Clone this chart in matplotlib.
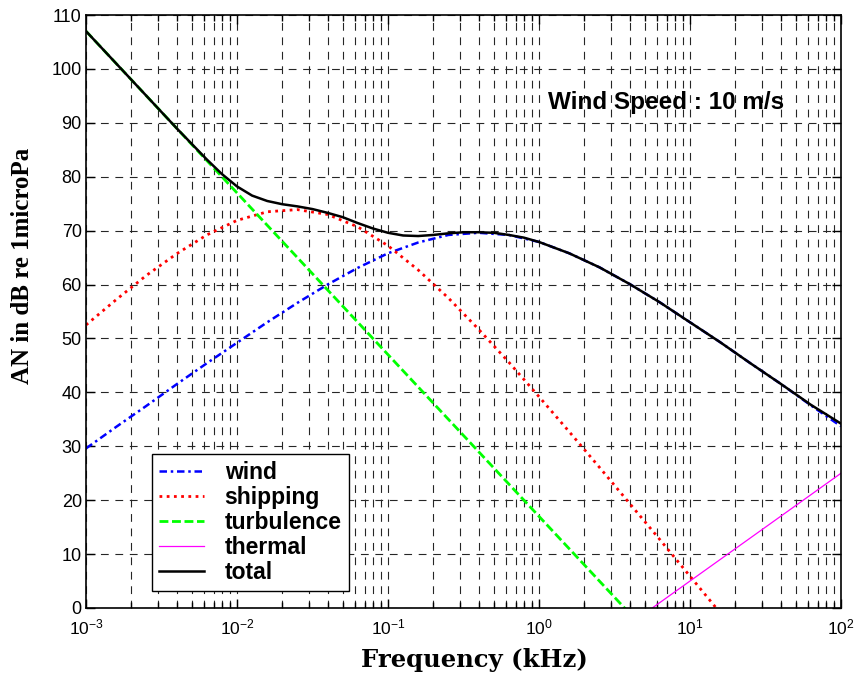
import matplotlib
matplotlib.use("Agg")
import matplotlib.pyplot as plt
from matplotlib.ticker import LogLocator, FixedLocator

plt.rcParams['font.family'] = ['Liberation Sans', 'DejaVu Sans']
plt.rcParams['mathtext.default'] = 'regular'

# frequency samples (kHz), 1/5 decade steps
freq_khz = [0.001, 0.001585, 0.002512, 0.003981, 0.00631,
            0.01, 0.01585, 0.02512, 0.03981, 0.0631,
            0.1, 0.1585, 0.2512, 0.3981, 0.631,
            1.0, 1.585, 2.512, 3.981, 6.31,
            10.0, 15.85, 25.12, 39.81, 63.1, 100.0]

# noise levels (dB re 1 microPa)
wind = [29.6, 33.6, 37.5, 41.5, 45.4,
        49.2, 53.0, 56.6, 60.0, 63.1,
        65.8, 67.8, 69.2, 69.6, 69.2,
        67.9, 65.8, 63.2, 60.1, 56.7,
        53.0, 49.3, 45.4, 41.6, 37.6, 33.7]
shipping = [52.5, 57.2, 61.7, 65.7, 69.2,
            71.9, 73.5, 73.9, 73.0, 70.7,
            67.2, 62.7, 57.5, 51.7, 45.6,
            39.2, 32.7, 26.1, 19.4, 12.7,
            5.9, -0.9, -7.6, -14.4, -21.2, -28.0]
turbulence = [107, 101, 95, 89, 83,
              77, 71, 65, 59, 53,
              47, 41, 35, 29, 23,
              17, 11, 5, -1, -7,
              -13, -19, -25, -31, -37, -43]
thermal = [-75, -71, -67, -63, -59,
           -55, -51, -47, -43, -39,
           -35, -31, -27, -23, -19,
           -15, -11, -7, -3, 1,
           5, 9, 13, 17, 21, 25]

# total is read more densely where it bends
freq_total = [0.001, 0.001585, 0.002512, 0.003981, 0.005012, 0.00631, 0.007943,
              0.01, 0.01259, 0.01585, 0.01995, 0.02512, 0.03162, 0.03981,
              0.05012, 0.0631, 0.07943, 0.1, 0.1259, 0.1585, 0.1995, 0.2512,
              0.3162, 0.3981, 0.5012, 0.631, 0.7943,
              1.0, 1.585, 2.512, 3.981, 6.31,
              10.0, 15.85, 25.12, 39.81, 63.1, 100.0]
total = [107.0, 101.0, 95.0, 89.0, 86.1, 83.2, 80.5,
         78.2, 76.5, 75.5, 74.9, 74.5, 74.0, 73.3,
         72.5, 71.4, 70.4, 69.6, 69.1, 69.0, 69.2, 69.5,
         69.7, 69.7, 69.6, 69.2, 68.7,
         67.9, 65.8, 63.2, 60.1, 56.7,
         53.0, 49.3, 45.4, 41.6, 37.7, 34.2]

yticks = list(range(0, 111, 10))

fig = plt.figure(figsize=(8.58, 6.77), dpi=100)
ax = fig.add_axes([86/858, 69/677, 755/858, 593/677])

ax.plot(freq_khz, wind, color='#0000ff', lw=1.8, ls=(0, (3, 1.5, 1, 1.5)), label='wind')
ax.plot(freq_khz, shipping, color='#ff0000', lw=2.0, ls=(0, (1, 1.6)), label='shipping')
ax.plot(freq_khz, turbulence, color='#00ff00', lw=2.0, ls=(0, (3.2, 1.3)), label='turbulence')
ax.plot(freq_khz, thermal, color='#ff00ff', lw=0.9, label='thermal')
ax.plot(freq_total, total, color='black', lw=1.8, label='total')

ax.set_xscale('log')
ax.set_xlim(1e-3, 1e2)
ax.set_ylim(0, 110)
ax.yaxis.set_major_locator(FixedLocator(yticks))
ax.xaxis.set_major_locator(LogLocator(base=10, numticks=10))
ax.xaxis.set_minor_locator(LogLocator(base=10, subs=range(2, 10), numticks=20))

grid_kw = dict(color='0.15', lw=0.8, ls=(0, (7, 6)))
ax.grid(True, which='major', axis='both', **grid_kw)
ax.grid(True, which='minor', axis='x', **grid_kw)
ax.set_axisbelow(True)

ax.tick_params(which='both', direction='in', top=True, right=True, width=1.0)
ax.tick_params(which='major', length=6.5)
ax.tick_params(which='minor', length=4.3)
ax.tick_params(axis='y', which='major', labelsize=13, pad=3)
ax.tick_params(axis='x', which='major', labelsize=12.5, pad=7)
for s in ax.spines.values():
    s.set_linewidth(1.2)

ax.set_xlabel('Frequency (kHz)', family='DejaVu Serif', fontweight='bold',
              fontsize=17.5)
ax.xaxis.set_label_coords(0.515, -0.068)
ax.set_ylabel('AN in dB re 1microPa', family='Liberation Serif', fontweight='bold',
              fontsize=18)
ax.yaxis.set_label_coords(-0.0695, 0.577)

ax.text(1.147, 93.7, 'Wind Speed : 10 m/s', fontsize=17.5, fontweight='bold',
        ha='left', va='center')

leg = ax.legend(loc='lower left', bbox_to_anchor=(0.0874, 0.0287),
                prop={'size': 16.5, 'weight': 'bold'}, fancybox=False,
                framealpha=1, edgecolor='black', labelspacing=0.09,
                handlelength=1.97, handletextpad=0.9, borderpad=0.3,
                borderaxespad=0)
leg.get_frame().set_linewidth(1.0)

fig.savefig('out.png', dpi=100)
